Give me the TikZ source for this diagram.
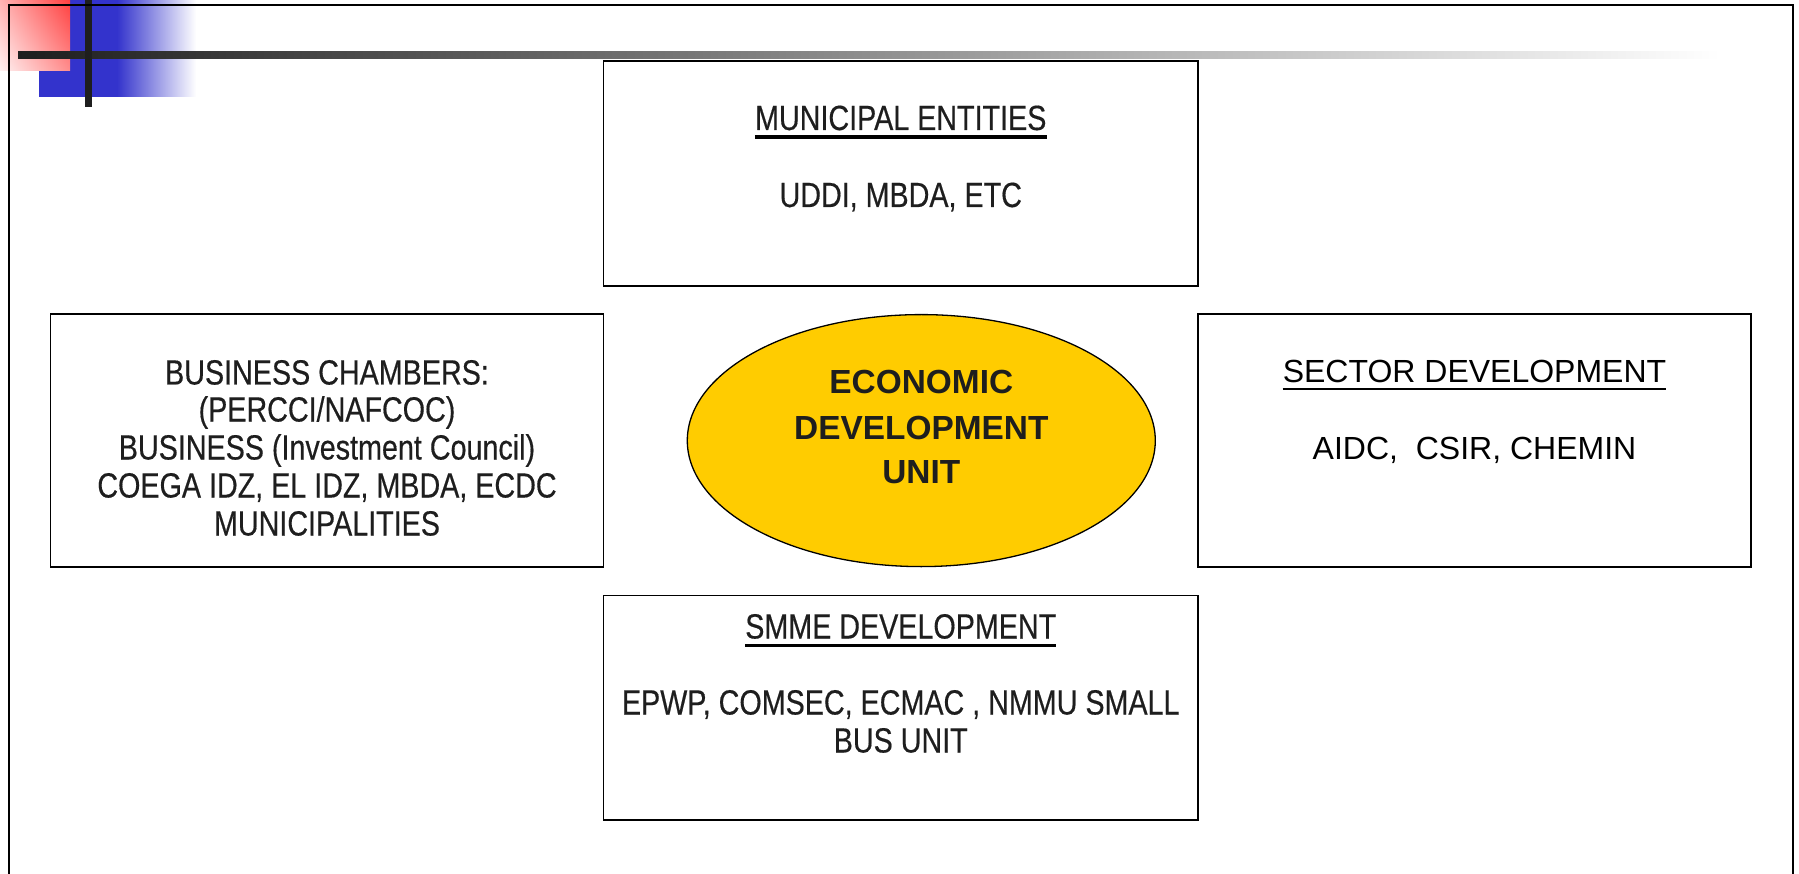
\documentclass[tikz,border=0pt]{standalone}
\usepackage{fontspec}
\setmainfont{Liberation Sans}
\newfontfamily\narrowfont[FakeStretch=0.82,FakeBold=0.4]{Liberation Sans}
\usetikzlibrary{shapes.geometric,shadings}
\definecolor{txt}{HTML}{1E1E1E}
\definecolor{bar}{HTML}{1E1E1E}
\definecolor{deco}{HTML}{3333CC}
\definecolor{unitfill}{HTML}{FFCC00}
\begin{document}
\begin{tikzpicture}[x=1pt,y=-1pt,
  boxstyle/.style={draw=black, line width=1.8pt, rectangle, inner sep=0pt},
  nt/.style={font=\narrowfont\fontsize{35}{40}\selectfont, text=txt, inner sep=0pt, anchor=base},
  rt/.style={font=\fontsize{32}{38}\selectfont, text=black, inner sep=0pt, anchor=base},
  bt/.style={font=\bfseries\fontsize{33.4}{40}\selectfont, text=txt, inner sep=0pt, anchor=base},
  ul/.style={line width=3.2pt, line cap=butt}]
\useasboundingbox (0,0) rectangle (1799,874);
% decoration
\fill[deco] (39,0) rectangle (117,97);
\shade[left color=deco, right color=white] (117,0) rectangle (196,97);
\shade[upper left=red!30, upper right=red!75, lower left=red!5, lower right=red!45] (0,0) rectangle (70,71);
\shade[left color=bar, middle color=black!30, right color=white] (18,52) rectangle (1720,59);
\fill[bar] (85,0) rectangle (92,107);
% frame
\draw[line width=2.5pt] (9,874) -- (9,5) -- (1793,5) -- (1793,874);
% boxes
\node[boxstyle, minimum width=594.5, minimum height=225] (top) at (900.75,173.5) {};
\node[boxstyle, minimum width=553, minimum height=252.4] (left) at (327,440.6) {};
\node[boxstyle, minimum width=553, minimum height=252.4] (right) at (1474.5,440.6) {};
\node[boxstyle, minimum width=594.5, minimum height=224.8] (bottom) at (900.75,707.9) {};
\node[ellipse, draw=black, line width=1.3pt, fill=unitfill, minimum width=468, minimum height=252, inner sep=0pt] (unit) at (921.3,440.6) {};
% top box
\node[nt] (topt) at (900.75,130) {MUNICIPAL ENTITIES};
\draw[ul] ([yshift=-7pt]topt.base west) -- ([yshift=-7pt]topt.base east);
\node[nt] (topl) at (900.75,207) {UDDI, MBDA, ETC};
% left box
\node[nt] (l1) at (327,384.5) {BUSINESS CHAMBERS:};
\node[nt] (l2) at (327,421.5) {(PERCCI/NAFCOC)};
\node[nt] (l3) at (327,459.5) {BUSINESS (Investment Council)};
\node[nt] (l4) at (327,497.5) {COEGA IDZ, EL IDZ, MBDA, ECDC};
\node[nt] (l5) at (327,535.5) {MUNICIPALITIES};
% right box
\node[rt] (rtt) at (1474.5,383) {SECTOR DEVELOPMENT};
\draw[line width=2.6pt] ([yshift=-6pt]rtt.base west) -- ([yshift=-6pt]rtt.base east);
\node[rt] (rtl) at (1474.5,459) {AIDC,\ \ CSIR, CHEMIN};
% bottom box
\node[nt] (bt1) at (900.75,638.5) {SMME DEVELOPMENT};
\draw[ul] ([yshift=-7pt]bt1.base west) -- ([yshift=-7pt]bt1.base east);
\node[nt] (bl1) at (900.75,714.5) {EPWP, COMSEC, ECMAC , NMMU SMALL};
\node[nt] (bl2) at (900.75,752.5) {BUS UNIT};
% ellipse
\node[bt] (e1) at (921.3,394) {ECONOMIC};
\node[bt] (e2) at (921.3,439) {DEVELOPMENT};
\node[bt] (e3) at (921.3,483) {UNIT};
\end{tikzpicture}
\end{document}
